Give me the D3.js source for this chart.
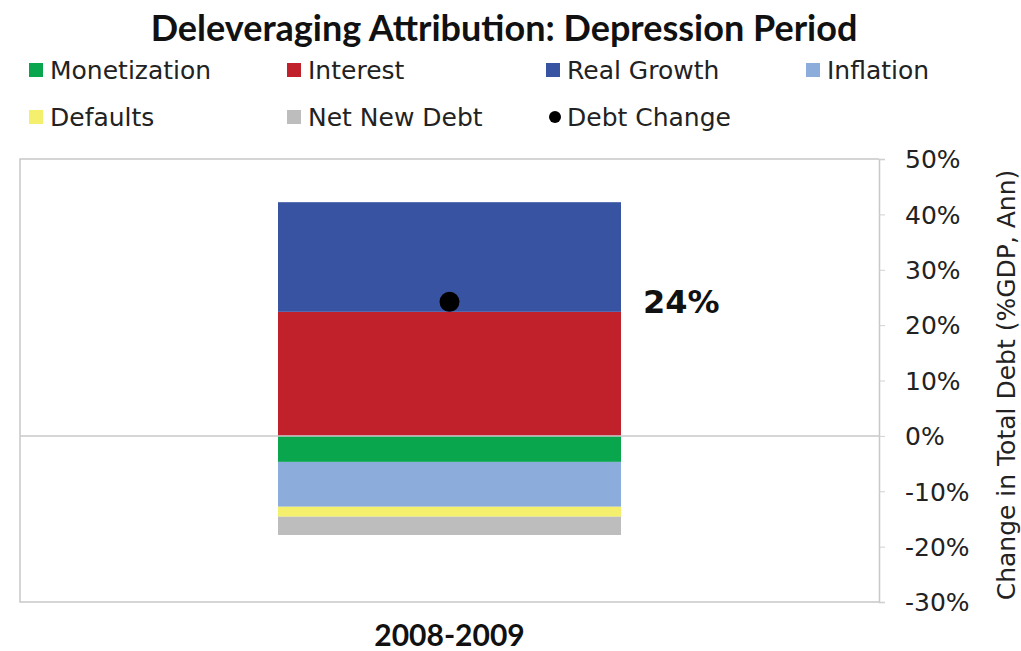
<!DOCTYPE html>
<html><head><meta charset="utf-8">
<script src="https://cdn.jsdelivr.net/npm/d3@7"></script>
<style>body{margin:0;background:#fff}svg{display:block}</style>
</head><body>
<svg id="c" width="1021" height="651"></svg>
<script>
const categories = ["2008-2009"];
const seriesNames = ["Monetization","Interest","Real Growth","Inflation","Defaults","Net New Debt"];
const seriesValues = {
  "Monetization": [-4.7],
  "Interest": [22.4],
  "Real Growth": [19.8],
  "Inflation": [-8.1],
  "Defaults": [-1.8],
  "Net New Debt": [-3.3]
};
const debtChange = [24.2];
const debtChangeLabel = ["24%"];
const yTicks = [50,40,30,20,10,0,-10,-20,-30];
const colors = {"Monetization":"#0aa64e","Interest":"#c1212a","Real Growth":"#3953a3","Inflation":"#8cacdc","Defaults":"#f4ef6c","Net New Debt":"#bdbdbd"};

const SANS = "'DejaVu Sans', sans-serif";
const COND = "Lato, sans-serif";
const svg = d3.select("#c");
const L = 20, R = 879, T = 159, B = 602;
const y = d3.scaleLinear().domain([-30,50]).range([B,T]);
const x = d3.scaleBand().domain(categories).range([L,R]).paddingInner(0).paddingOuter(0.3);
const table = categories.map((c,i)=>{const o={cat:c};seriesNames.forEach(s=>o[s]=seriesValues[s][i]);return o;});
const stack = d3.stack().keys(seriesNames).offset(d3.stackOffsetDiverging)(table);

// frame
svg.append("path").attr("d",`M${R},${T}H${L}V${B}H${R}`).attr("fill","none").attr("stroke","#c8c8c8").attr("stroke-width",1.5);

// bars
const bw = 343;
stack.forEach(layer=>{
  svg.append("g").selectAll("rect").data(layer).join("rect")
    .attr("x",d=>x(d.data.cat)+x.bandwidth()/2-bw/2)
    .attr("width",bw)
    .attr("y",d=>y(Math.max(d[0],d[1])))
    .attr("height",d=>Math.abs(y(d[0])-y(d[1])))
    .attr("fill",colors[layer.key]);
});

// zero line
svg.append("line").attr("x1",L).attr("x2",R).attr("y1",y(0)).attr("y2",y(0)).attr("stroke","#c8c8c8").attr("stroke-width",1.5);

// axis
const ax = svg.append("g").attr("transform",`translate(${R},0)`)
  .call(d3.axisRight(y).tickValues(yTicks).tickFormat(d=>d+"%").tickSize(6).tickPadding(20));
ax.select(".domain").attr("stroke","#c8c8c8").attr("stroke-width",1.5);
ax.selectAll(".tick line").attr("stroke","#d0d0d0");
ax.selectAll("text").style("font-family",SANS).style("font-size","25px").attr("fill","#222").attr("dy","0.35em");

svg.append("text").attr("transform",`translate(1006,385) rotate(-90)`)
  .attr("text-anchor","middle").attr("dy","0.35em").style("font-family",SANS).style("font-size","25px").attr("fill","#222")
  .text("Change in Total Debt (%GDP, Ann)");

// debt change dot
table.forEach((d,i)=>{
  const cx = x(d.cat)+x.bandwidth()/2;
  svg.append("circle").attr("cx",cx).attr("cy",y(debtChange[i])).attr("r",10).attr("fill","#000");
  svg.append("text").attr("x",cx+bw/2+22).attr("y",y(debtChange[i])).attr("dy","0.35em")
    .style("font-family",SANS).style("font-size","32px").style("font-weight","bold").attr("fill","#111").text(debtChangeLabel[i]);
  svg.append("text").attr("x",cx).attr("y",635).attr("dy","0.35em").attr("text-anchor","middle")
    .style("font-family",COND).style("font-size","30px").style("font-weight","bold").attr("fill","#111").text(d.cat);
});

// title
svg.append("text").attr("x",504).attr("y",28).attr("dy","0.35em").attr("text-anchor","middle")
  .style("font-family",COND).style("font-size","36px").style("font-weight","bold").attr("fill","#111").text("Deleveraging Attribution: Depression Period");

// legend
const legendItems = [
  {name:"Monetization",x:29,y:70},{name:"Interest",x:287,y:70},{name:"Real Growth",x:546,y:70},{name:"Inflation",x:806,y:70},
  {name:"Defaults",x:29,y:117},{name:"Net New Debt",x:287,y:117},{name:"Debt Change",x:546,y:117,dot:true}
];
legendItems.forEach(it=>{
  if(it.dot){
    svg.append("circle").attr("cx",it.x+9).attr("cy",it.y).attr("r",6).attr("fill","#000");
  } else {
    svg.append("rect").attr("x",it.x).attr("y",it.y-7).attr("width",14).attr("height",14).attr("fill",colors[it.name]);
  }
  svg.append("text").attr("x",it.x+21).attr("y",it.y).attr("dy","0.35em").style("font-family",SANS).style("font-size","25px").attr("fill","#222").text(it.name);
});
</script>
</body></html>
